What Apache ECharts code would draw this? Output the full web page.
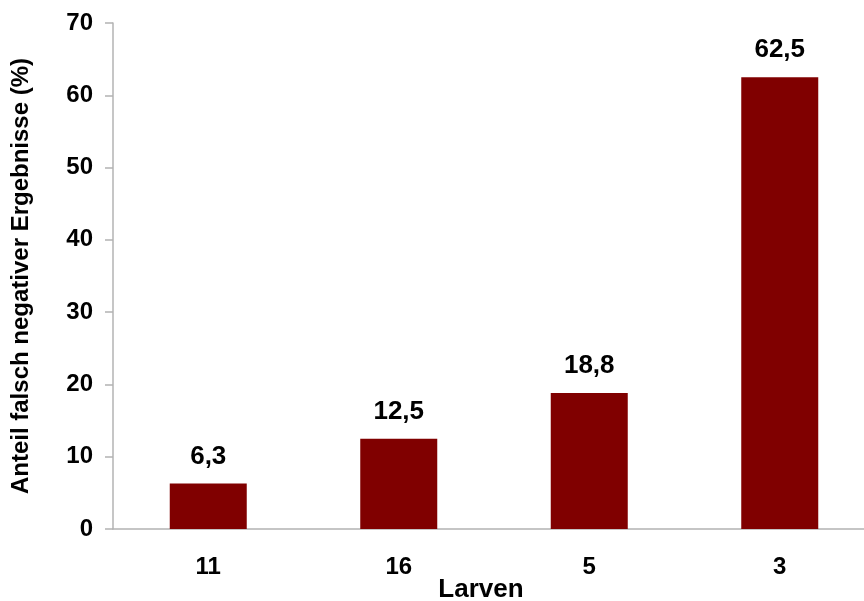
<!DOCTYPE html>
<html>
<head>
<meta charset="utf-8">
<script src="https://cdn.jsdelivr.net/npm/echarts@6/dist/echarts.min.js"></script>
<style>
  html, body { margin: 0; padding: 0; background: #fff; }
  #main { width: 864px; height: 601px; }
</style>
</head>
<body>
<div id="main"></div>
<script>
// Daten
var larven = ['11', '16', '5', '3'];
var anteil = [6.3, 12.5, 18.8, 62.5];
var yTicks = [0, 10, 20, 30, 40, 50, 60, 70];

var chart = echarts.init(document.getElementById('main'));
var font = 'Liberation Sans, Arial, sans-serif';

var option = {
    backgroundColor: '#fff',
    animation: false,
    grid: {
        left: 113,
        top: 23,
        width: 762,
        height: 506,
        containLabel: false,
        outerBoundsMode: 'none'
    },
    xAxis: {
        type: 'category',
        data: larven,
        name: 'Larven',
        nameLocation: 'middle',
        nameGap: 48,
        nameMoveOverlap: false,
        nameTextStyle: { fontFamily: font, fontSize: 26, fontWeight: 'bold', color: '#000', padding: [0, 26, 0, 0] },
        axisLine: { lineStyle: { color: '#b3b3b3', width: 1.5 } },
        axisTick: { show: false },
        axisLabel: { margin: 26, fontFamily: font, fontSize: 24, fontWeight: 'bold', color: '#000' }
    },
    yAxis: {
        type: 'value',
        min: yTicks[0],
        max: yTicks[yTicks.length - 1],
        interval: 10,
        name: 'Anteil falsch negativer Ergebnisse (%)',
        nameLocation: 'middle',
        nameRotate: 90,
        nameGap: 80,
        nameMoveOverlap: false,
        nameTextStyle: { fontFamily: font, fontSize: 24, fontWeight: 'bold', color: '#000' },
        axisLine: { show: true, lineStyle: { color: '#b3b3b3', width: 1.5 } },
        axisTick: { show: true, inside: false, length: 8, lineStyle: { color: '#b3b3b3', width: 1.5 } },
        splitLine: { show: false },
        axisLabel: { margin: 20, fontFamily: font, fontSize: 24, fontWeight: 'bold', color: '#000' }
    },
    series: [{
        type: 'bar',
        data: anteil,
        barWidth: 77,
        itemStyle: { color: '#800000' },
        label: {
            show: true,
            position: 'top',
            distance: 14,
            fontFamily: font,
            fontSize: 26,
            fontWeight: 'bold',
            color: '#000',
            formatter: function (p) { return p.value.toFixed(1).replace('.', ','); }
        }
    }]
};

chart.setOption(option);
</script>
</body>
</html>
